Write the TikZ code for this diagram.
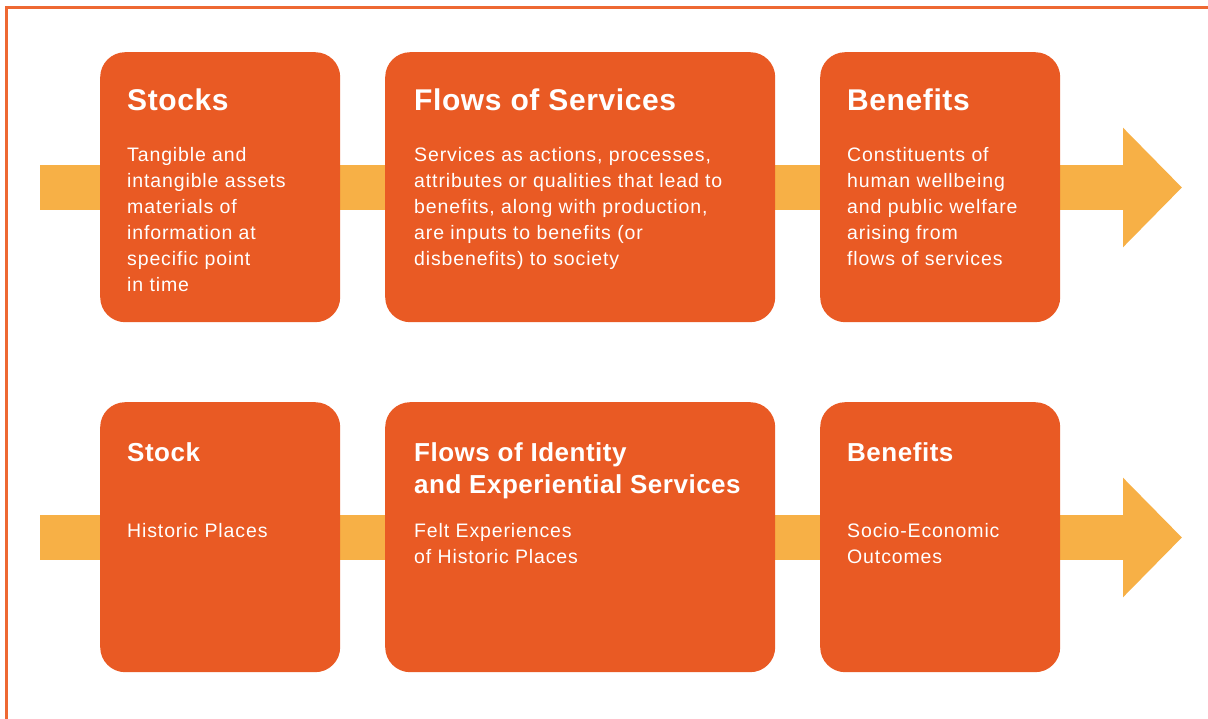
\documentclass[tikz,border=0pt]{standalone}
\usepackage{fontspec}
\setmainfont{Liberation Sans}
\newfontfamily\headfont[LetterSpace=2]{Liberation Sans}
\newfontfamily\copyfont[LetterSpace=4.5]{Liberation Sans}
\usetikzlibrary{arrows.meta}

\definecolor{boxorange}{RGB}{233,90,36}
\definecolor{bandyellow}{RGB}{247,176,70}
\definecolor{frameorange}{RGB}{238,104,50}

\begin{document}
\begin{tikzpicture}[x=1pt,y=-1pt,
  stage/.style={fill=boxorange,rounded corners=25pt,anchor=north west,
    minimum height=270pt,inner sep=0pt},
  % base is the last line of a node with several lines
  heading/.style={text=white,anchor=base west,inner sep=0pt,align=left,
    font=\headfont\bfseries\fontsize{30}{32}\selectfont},
  subheading/.style={heading,font=\headfont\bfseries\fontsize{26}{32}\selectfont},
  blurb/.style={text=white,anchor=base west,inner sep=0pt,align=left,
    font=\copyfont\fontsize{19.5}{26}\selectfont},
  band/.style={draw=bandyellow,line width=45pt,
    -{Triangle[length=59pt,width=116pt]}}]

  \useasboundingbox (0,0) rectangle (1208,719);
  \draw [frameorange,line width=2.5pt] (6.5,719) -- (6.5,7.5) -- (1208,7.5);

  % arrows behind the boxes

  \coordinate (in1) at (40,187.5);
  \coordinate (out1) at (1182,187.5);
  \coordinate (in2) at (40,537.5);
  \coordinate (out2) at (1182,537.5);
  \draw [band] (in1) -- (out1);
  \draw [band] (in2) -- (out2);

  % Services

  \node [stage,minimum width=240pt] (stocks) at (100,52) {};
  \node [stage,minimum width=390pt] (flows) at (385,52) {};
  \node [stage,minimum width=240pt] (benefits) at (820,52) {};

  \node [heading] (stocksT) at (127,111) {Stocks};
  \node [blurb] (stocksB) at (127,292)
    {Tangible and\\intangible assets\\materials of\\information at\\specific point\\in time};

  \node [heading] (flowsT) at (414,111) {Flows of Services};
  \node [blurb] (flowsB) at (414,266)
    {Services as actions, processes,\\attributes or qualities that lead to\\benefits, along with production,\\are inputs to benefits (or\\disbenefits) to society};

  \node [heading] (benefitsT) at (847,111) {Benefits};
  \node [blurb] (benefitsB) at (847,266)
    {Constituents of\\human wellbeing\\and public welfare\\arising from\\flows of services};

  % Historic places

  \node [stage,minimum width=240pt] (stock) at (100,402) {};
  \node [stage,minimum width=390pt] (identity) at (385,402) {};
  \node [stage,minimum width=240pt] (outcomes) at (820,402) {};

  \node [subheading] (stockT) at (127,461) {Stock};
  \node [blurb] (stockB) at (127,537) {Historic Places};

  \node [subheading] (identityT) at (414,493) {Flows of Identity\\and Experiential Services};
  \node [blurb] (identityB) at (414,563) {Felt Experiences\\of Historic Places};

  \node [subheading] (outcomesT) at (847,461) {Benefits};
  \node [blurb] (outcomesB) at (847,563) {Socio-Economic\\Outcomes};
\end{tikzpicture}
\end{document}
